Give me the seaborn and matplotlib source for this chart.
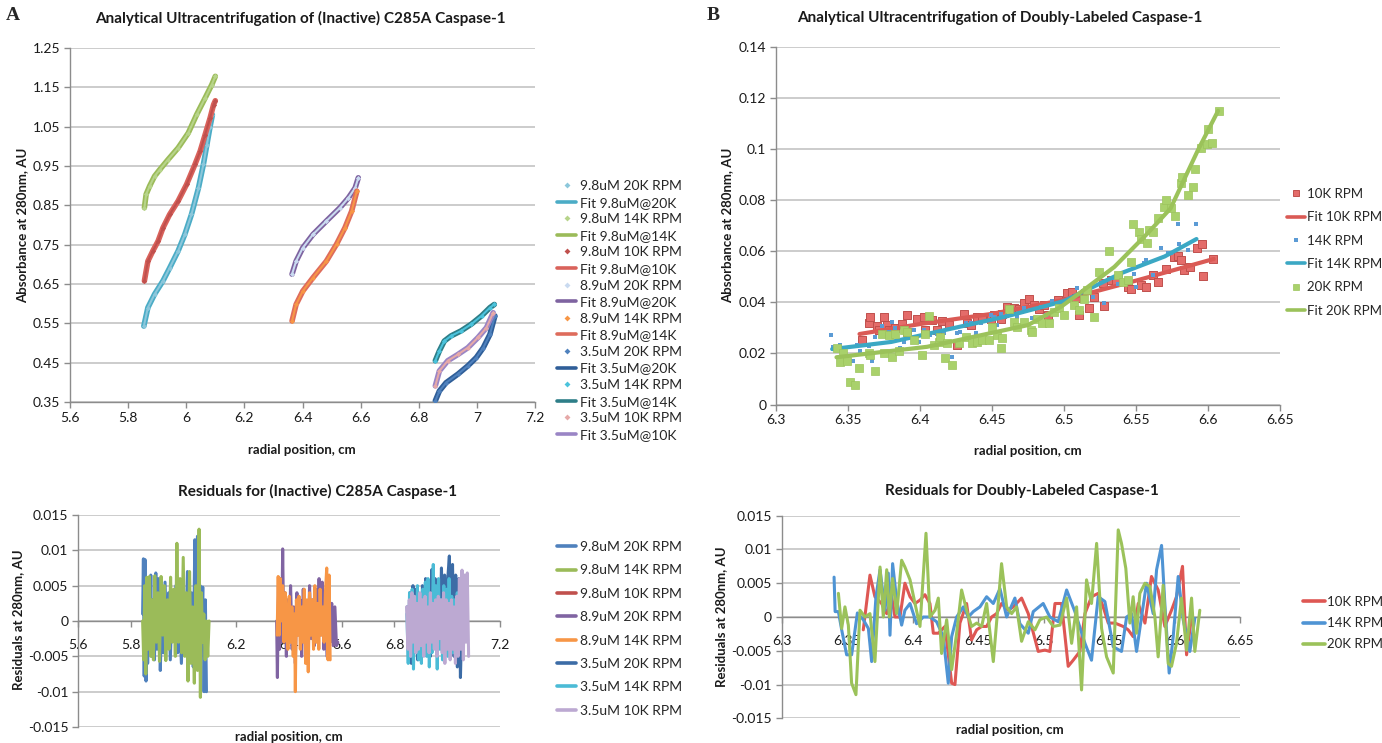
import matplotlib
matplotlib.use("Agg")
import matplotlib.pyplot as plt
import numpy as np
import pandas as pd
import seaborn as sns
from matplotlib.lines import Line2D

sns.set_style("white")
plt.rcParams["font.family"] = ["Lato", "DejaVu Sans"]

W, H = 1382, 743

# ---------------- Panel A (top): sedimentation equilibrium profiles ----------------
a_x_98_20 = [5.854, 5.868, 5.891, 5.920, 5.943, 5.972, 5.995, 6.018, 6.042, 6.059, 6.071, 6.082, 6.090]
a_y_98_20 = [0.543, 0.590, 0.624, 0.658, 0.691, 0.734, 0.776, 0.827, 0.894, 0.954, 1.004, 1.050, 1.080]
a_x_98_14 = [5.856, 5.862, 5.874, 5.891, 5.909, 5.937, 5.972, 6.007, 6.036, 6.065, 6.088, 6.100]
a_y_98_14 = [0.844, 0.878, 0.899, 0.924, 0.941, 0.966, 0.996, 1.034, 1.081, 1.123, 1.157, 1.178]
a_x_98_10 = [5.856, 5.868, 5.885, 5.903, 5.920, 5.943, 5.972, 6.001, 6.030, 6.048, 6.065, 6.082, 6.094, 6.100]
a_y_98_10 = [0.658, 0.708, 0.734, 0.759, 0.793, 0.827, 0.861, 0.903, 0.954, 0.988, 1.030, 1.072, 1.106, 1.116]
a_x_89_20 = [6.364, 6.378, 6.401, 6.436, 6.482, 6.529, 6.558, 6.581, 6.592]
a_y_89_20 = [0.675, 0.708, 0.742, 0.776, 0.810, 0.844, 0.869, 0.894, 0.920]
a_x_89_14 = [6.364, 6.378, 6.401, 6.436, 6.482, 6.517, 6.546, 6.569, 6.587]
a_y_89_14 = [0.556, 0.598, 0.632, 0.666, 0.708, 0.751, 0.793, 0.835, 0.886]
a_x_35_20 = [6.857, 6.871, 6.894, 6.935, 6.969, 6.998, 7.022, 7.045, 7.062]
a_y_35_20 = [0.353, 0.378, 0.399, 0.421, 0.442, 0.463, 0.488, 0.522, 0.569]
a_x_35_14 = [6.857, 6.871, 6.888, 6.911, 6.946, 6.981, 7.016, 7.045, 7.060]
a_y_35_14 = [0.455, 0.480, 0.505, 0.518, 0.531, 0.548, 0.569, 0.590, 0.598]
a_x_35_10 = [6.857, 6.871, 6.900, 6.935, 6.969, 7.004, 7.033, 7.056]
a_y_35_10 = [0.391, 0.429, 0.455, 0.471, 0.488, 0.514, 0.539, 0.577]

a_data_labels = ["9.8uM 20K RPM", "9.8uM 14K RPM", "9.8uM 10K RPM", "8.9uM 20K RPM",
                 "8.9uM 14K RPM", "3.5uM 20K RPM", "3.5uM 14K RPM", "3.5uM 10K RPM"]
a_fit_labels = ["Fit 9.8uM@20K", "Fit 9.8uM@14K", "Fit 9.8uM@10K", "Fit 8.9uM@20K",
                "Fit 8.9uM@14K", "Fit 3.5uM@20K", "Fit 3.5uM@14K", "Fit 3.5uM@10K"]
a_xs = [a_x_98_20, a_x_98_14, a_x_98_10, a_x_89_20, a_x_89_14, a_x_35_20, a_x_35_14, a_x_35_10]
a_ys = [a_y_98_20, a_y_98_14, a_y_98_10, a_y_89_20, a_y_89_14, a_y_35_20, a_y_35_14, a_y_35_10]
a_data_colors = ["#8CC7DB", "#B7D48A", "#C0504D", "#C9DAF0", "#F79646", "#4F81BD", "#4BC3DC", "#E6A9A8"]
a_fit_colors = ["#4BACC6", "#9BBB59", "#D9625B", "#7E63A0", "#DE6C5C", "#2F5E98", "#2E7E88", "#9A85C5"]

a_xticks = [5.6, 5.8, 6.0, 6.2, 6.4, 6.6, 6.8, 7.0, 7.2]
a_xticklabels = ["5.6", "5.8", "6", "6.2", "6.4", "6.6", "6.8", "7", "7.2"]
a_yticks = [0.35, 0.45, 0.55, 0.65, 0.75, 0.85, 0.95, 1.05, 1.15, 1.25]
a_yticklabels = ["0.35", "0.45", "0.55", "0.65", "0.75", "0.85", "0.95", "1.05", "1.15", "1.25"]

# ---------------- Panel A (bottom): residuals ----------------
ra_x_98_20 = [5.845, 5.848, 5.851, 5.854, 5.858, 5.861, 5.864, 5.868, 5.872, 5.876, 5.880, 5.885, 5.890,
              5.895, 5.900, 5.906, 5.912, 5.918, 5.924, 5.930, 5.937, 5.944, 5.950, 5.957, 5.964, 5.971,
              5.978, 5.985, 5.992, 6.000, 6.008, 6.015, 6.022, 6.030, 6.037, 6.043, 6.048, 6.053, 6.058,
              6.063, 6.068, 6.073, 6.078, 6.083, 6.087]
ra_y_98_20 = [0.0010, 0.0088, -0.0078, 0.0087, -0.0085, 0.0050, -0.0060, 0.0040, -0.0030, 0.0065, -0.0050,
              0.0030, -0.0055, 0.0068, -0.0040, 0.0060, -0.0070, 0.0020, -0.0045, 0.0055, -0.0030, 0.0040,
              -0.0055, 0.0030, -0.0020, 0.0050, -0.0045, 0.0010, -0.0060, 0.0035, -0.0040, 0.0070, -0.0050,
              0.0040, -0.0065, 0.0115, -0.0020, 0.0120, -0.0055, 0.0050, -0.0030, 0.0048, -0.0100, 0.0030,
              -0.0100]
ra_x_98_14 = [5.845, 5.849, 5.853, 5.857, 5.861, 5.866, 5.871, 5.876, 5.881, 5.886, 5.891, 5.897, 5.903,
              5.909, 5.915, 5.921, 5.927, 5.933, 5.939, 5.945, 5.951, 5.957, 5.963, 5.969, 5.975, 5.981,
              5.987, 5.993, 5.999, 6.005, 6.011, 6.017, 6.023, 6.029, 6.035, 6.041, 6.047, 6.053, 6.059,
              6.064, 6.068, 6.072, 6.077, 6.082, 6.087, 6.092, 6.097]
ra_y_98_14 = [0.0000, -0.0055, 0.0050, -0.0075, 0.0062, -0.0040, 0.0063, -0.0050, 0.0030, -0.0055, 0.0064,
              -0.0030, 0.0040, -0.0057, 0.0063, -0.0020, 0.0050, -0.0056, 0.0030, -0.0040, 0.0062, -0.0030,
              0.0045, -0.0050, 0.0110, -0.0030, 0.0060, -0.0045, 0.0090, -0.0050, 0.0040, -0.0085, 0.0070,
              -0.0060, 0.0020, -0.0088, 0.0050, -0.0070, 0.0130, -0.0108, 0.0040, -0.0030, 0.0010, -0.0055,
              0.0000, -0.0050, 0.0000]
ra_x_98_10 = []
ra_y_98_10 = []
ra_x_89_20 = [6.353, 6.356, 6.360, 6.364, 6.368, 6.372, 6.376, 6.380, 6.385, 6.390, 6.395, 6.400, 6.406,
              6.412, 6.418, 6.424, 6.430, 6.436, 6.442, 6.448, 6.454, 6.460, 6.466, 6.472, 6.478, 6.484,
              6.490, 6.496, 6.502, 6.508, 6.514, 6.520, 6.526, 6.532, 6.538, 6.544, 6.550, 6.556, 6.562,
              6.568, 6.574, 6.580, 6.585]
ra_y_89_20 = [0.0000, -0.0080, 0.0050, -0.0040, 0.0060, -0.0030, 0.0102, -0.0020, 0.0040, -0.0050, 0.0030,
              -0.0030, 0.0050, -0.0040, 0.0020, -0.0060, 0.0040, -0.0020, 0.0030, -0.0050, 0.0045, -0.0030,
              0.0020, -0.0040, 0.0050, -0.0025, 0.0030, -0.0035, 0.0045, -0.0030, 0.0060, -0.0020, 0.0055,
              -0.0040, 0.0030, -0.0050, 0.0025, -0.0030, 0.0025, -0.0035, 0.0020, -0.0035, -0.0030]
ra_x_89_14 = [6.355, 6.359, 6.363, 6.367, 6.371, 6.376, 6.381, 6.386, 6.391, 6.396, 6.401, 6.406, 6.411,
              6.416, 6.421, 6.424, 6.428, 6.433, 6.438, 6.443, 6.448, 6.453, 6.458, 6.463, 6.468, 6.473,
              6.478, 6.483, 6.488, 6.493, 6.498, 6.503, 6.508, 6.513, 6.518, 6.523, 6.528, 6.533, 6.538,
              6.543, 6.548, 6.552, 6.556]
ra_y_89_14 = [-0.0020, 0.0063, -0.0020, 0.0060, 0.0000, 0.0050, -0.0030, 0.0040, 0.0010, -0.0040, 0.0035,
              -0.0030, 0.0020, -0.0050, 0.0010, -0.0100, 0.0030, -0.0020, 0.0035, -0.0040, 0.0020, -0.0030,
              0.0045, -0.0060, 0.0030, -0.0072, 0.0040, -0.0020, 0.0030, -0.0040, 0.0050, -0.0030, 0.0025,
              -0.0040, 0.0045, -0.0020, 0.0020, -0.0030, 0.0040, 0.0075, -0.0055, 0.0065, -0.0055]
ra_x_35_20 = [6.848, 6.853, 6.858, 6.864, 6.870, 6.876, 6.882, 6.888, 6.894, 6.900, 6.906, 6.912, 6.918,
              6.924, 6.930, 6.936, 6.942, 6.948, 6.954, 6.960, 6.966, 6.972, 6.978, 6.984, 6.990, 6.996,
              7.002, 7.008, 7.014, 7.020, 7.026, 7.032, 7.038, 7.044, 7.050, 7.055]
ra_y_35_20 = [0.0020, -0.0050, 0.0040, -0.0060, 0.0050, -0.0030, 0.0045, -0.0055, 0.0030, -0.0040, 0.0050,
              -0.0045, 0.0060, -0.0030, 0.0050, -0.0050, 0.0073, -0.0020, 0.0060, -0.0040, 0.0055, -0.0030,
              0.0075, -0.0020, 0.0065, -0.0045, 0.0060, 0.0092, -0.0030, 0.0080, -0.0050, 0.0065, -0.0065,
              0.0060, -0.0080, 0.0000]
ra_x_35_14 = [6.847, 6.852, 6.857, 6.862, 6.867, 6.872, 6.877, 6.882, 6.887, 6.892, 6.897, 6.902, 6.907,
              6.912, 6.917, 6.922, 6.927, 6.932, 6.937, 6.942, 6.947, 6.952, 6.957, 6.962, 6.967, 6.972,
              6.977, 6.982, 6.987, 6.992, 6.997, 7.002, 7.007, 7.012, 7.017, 7.022, 7.027, 7.032, 7.038,
              7.044, 7.050]
ra_y_35_14 = [0.0010, -0.0060, 0.0040, -0.0050, 0.0045, -0.0068, 0.0030, -0.0045, 0.0050, -0.0055, 0.0030,
              -0.0060, 0.0045, -0.0040, 0.0055, -0.0050, 0.0060, -0.0065, 0.0035, -0.0045, 0.0080, -0.0030,
              0.0050, -0.0068, 0.0060, -0.0040, 0.0030, -0.0055, 0.0050, -0.0030, 0.0045, -0.0050, 0.0060,
              -0.0040, 0.0035, -0.0045, 0.0030, -0.0050, 0.0040, -0.0035, 0.0000]
ra_x_35_10 = [6.846, 6.851, 6.856, 6.861, 6.866, 6.871, 6.876, 6.881, 6.886, 6.891, 6.896, 6.901, 6.906,
              6.911, 6.916, 6.921, 6.926, 6.931, 6.936, 6.941, 6.946, 6.951, 6.956, 6.961, 6.966, 6.971,
              6.976, 6.981, 6.986, 6.991, 6.996, 7.001, 7.006, 7.011, 7.016, 7.021, 7.026, 7.031, 7.036,
              7.041, 7.046, 7.051, 7.056, 7.061, 7.066, 7.071, 7.076, 7.081]
ra_y_35_10 = [0.0020, -0.0040, 0.0030, -0.0050, 0.0040, -0.0030, 0.0035, -0.0045, 0.0025, -0.0040, 0.0040,
              -0.0035, 0.0030, -0.0050, 0.0035, -0.0030, 0.0020, -0.0045, 0.0040, -0.0030, 0.0025, -0.0040,
              0.0030, -0.0050, 0.0035, -0.0025, 0.0030, -0.0045, 0.0040, -0.0060, 0.0030, -0.0040, 0.0025,
              -0.0055, 0.0030, -0.0040, 0.0020, -0.0060, 0.0035, -0.0050, 0.0060, -0.0040, 0.0072, -0.0055,
              0.0065, -0.0030, 0.0068, -0.0050]
ra_xs = [ra_x_98_20, ra_x_98_14, ra_x_98_10, ra_x_89_20, ra_x_89_14, ra_x_35_20, ra_x_35_14, ra_x_35_10]
ra_ys = [ra_y_98_20, ra_y_98_14, ra_y_98_10, ra_y_89_20, ra_y_89_14, ra_y_35_20, ra_y_35_14, ra_y_35_10]
ra_colors = ["#4F81BD", "#9BBB59", "#C0504D", "#8064A2", "#F79646", "#3C6CA6", "#4BBBD6", "#BCA9D2"]
res_yticks = [-0.015, -0.01, -0.005, 0.0, 0.005, 0.01, 0.015]
res_yticklabels = ["-0.015", "-0.01", "-0.005", "0", "0.005", "0.01", "0.015"]

# ---------------- Panel B (top): doubly labeled ----------------
b_pts_10k = [(6.3597, 0.0252), (6.3643, 0.0318), (6.3655, 0.0341), (6.3701, 0.0307), (6.3712, 0.0292),
             (6.3747, 0.0341), (6.3771, 0.0311), (6.3782, 0.0292), (6.3829, 0.0298), (6.3875, 0.0314),
             (6.3910, 0.0350), (6.3910, 0.0285), (6.3980, 0.0333), (6.4026, 0.0344), (6.4038, 0.0292),
             (6.4084, 0.0331), (6.4119, 0.0292), (6.4154, 0.0327), (6.4200, 0.0311), (6.4258, 0.0233),
             (6.4304, 0.0354), (6.4328, 0.0318), (6.4351, 0.0311), (6.4398, 0.0344), (6.4432, 0.0344),
             (6.4490, 0.0333), (6.4513, 0.0350), (6.4560, 0.0333), (6.4572, 0.0354), (6.4607, 0.0383),
             (6.4653, 0.0376), (6.4687, 0.0374), (6.4722, 0.0396), (6.4757, 0.0412), (6.4792, 0.0389),
             (6.4827, 0.0373), (6.4862, 0.0389), (6.4886, 0.0350), (6.4955, 0.0409), (6.5024, 0.0435),
             (6.5059, 0.0442), (6.5082, 0.0416), (6.5105, 0.0350), (6.5175, 0.0376), (6.5210, 0.0420),
             (6.5268, 0.0477), (6.5279, 0.0385), (6.5326, 0.0487), (6.5361, 0.0481), (6.5442, 0.0461),
             (6.5465, 0.0451), (6.5535, 0.0468), (6.5570, 0.0461), (6.5616, 0.0507), (6.5651, 0.0481),
             (6.5709, 0.0530), (6.5767, 0.0578), (6.5790, 0.0581), (6.5813, 0.0566), (6.5832, 0.0526),
             (6.5878, 0.0537), (6.5925, 0.0611), (6.5958, 0.0628), (6.5965, 0.0503), (6.6034, 0.0568)]
b_pts_14k = [(6.3383, 0.0272), (6.3395, 0.0224), (6.3446, 0.0232), (6.3480, 0.0181), (6.3538, 0.0170),
             (6.3562, 0.0233), (6.3585, 0.0211), (6.3643, 0.0229), (6.3666, 0.0170), (6.3689, 0.0265),
             (6.3736, 0.0309), (6.3782, 0.0285), (6.3806, 0.0324), (6.3829, 0.0298), (6.3864, 0.0220),
             (6.3887, 0.0246), (6.3956, 0.0292), (6.3991, 0.0246), (6.4026, 0.0292), (6.4072, 0.0272),
             (6.4119, 0.0276), (6.4165, 0.0279), (6.4223, 0.0187), (6.4235, 0.0155), (6.4258, 0.0279),
             (6.4281, 0.0285), (6.4316, 0.0318), (6.4351, 0.0318), (6.4386, 0.0279), (6.4421, 0.0320),
             (6.4490, 0.0350), (6.4513, 0.0344), (6.4537, 0.0311), (6.4560, 0.0354), (6.4607, 0.0346),
             (6.4676, 0.0344), (6.4722, 0.0376), (6.4781, 0.0337), (6.4838, 0.0383), (6.4873, 0.0350),
             (6.4920, 0.0406), (6.5089, 0.0457), (6.5129, 0.0446), (6.5198, 0.0422), (6.5279, 0.0398),
             (6.5338, 0.0494), (6.5372, 0.0472), (6.5396, 0.0503), (6.5442, 0.0481), (6.5488, 0.0513),
             (6.5500, 0.0461), (6.5558, 0.0555), (6.5570, 0.0566), (6.5616, 0.0507), (6.5674, 0.0611),
             (6.5721, 0.0592), (6.5744, 0.0592), (6.5790, 0.0706), (6.5802, 0.0628), (6.5860, 0.0605),
             (6.5918, 0.0706)]
b_pts_20k = [(6.3423, 0.0220), (6.3446, 0.0168), (6.3464, 0.0203), (6.3492, 0.0172), (6.3515, 0.0089),
             (6.3550, 0.0076), (6.3573, 0.0142), (6.3643, 0.0200), (6.3655, 0.0194), (6.3689, 0.0132),
             (6.3736, 0.0276), (6.3747, 0.0203), (6.3782, 0.0272), (6.3806, 0.0187), (6.3829, 0.0276),
             (6.3852, 0.0211), (6.3887, 0.0292), (6.3910, 0.0285), (6.3956, 0.0252), (6.4015, 0.0194),
             (6.4038, 0.0276), (6.4061, 0.0346), (6.4096, 0.0233), (6.4130, 0.0246), (6.4142, 0.0265),
             (6.4177, 0.0181), (6.4189, 0.0242), (6.4223, 0.0155), (6.4269, 0.0242), (6.4316, 0.0265),
             (6.4363, 0.0242), (6.4398, 0.0246), (6.4432, 0.0252), (6.4478, 0.0252), (6.4502, 0.0305),
             (6.4537, 0.0272), (6.4560, 0.0220), (6.4572, 0.0259), (6.4618, 0.0374), (6.4653, 0.0324),
             (6.4676, 0.0305), (6.4722, 0.0324), (6.4769, 0.0292), (6.4781, 0.0285), (6.4815, 0.0333),
             (6.4850, 0.0318), (6.4896, 0.0318), (6.4931, 0.0363), (6.4966, 0.0376), (6.5001, 0.0350),
             (6.5071, 0.0389), (6.5105, 0.0370), (6.5140, 0.0412), (6.5163, 0.0448), (6.5210, 0.0344),
             (6.5245, 0.0520), (6.5314, 0.0602), (6.5372, 0.0507), (6.5407, 0.0481), (6.5442, 0.0487),
             (6.5465, 0.0559), (6.5477, 0.0706), (6.5523, 0.0676), (6.5535, 0.0650), (6.5577, 0.0633),
             (6.5593, 0.0683), (6.5616, 0.0676), (6.5651, 0.0729), (6.5697, 0.0774), (6.5709, 0.0800),
             (6.5744, 0.0768), (6.5772, 0.0738), (6.5813, 0.0866), (6.5818, 0.0889), (6.5860, 0.0820),
             (6.5899, 0.0853), (6.5913, 0.0921), (6.5948, 0.1003), (6.5994, 0.1020), (6.6003, 0.1077),
             (6.6027, 0.1025), (6.6073, 0.1150)]
b_fit_10k_x = [6.358, 6.400, 6.450, 6.500, 6.550, 6.604]
b_fit_10k_y = [0.0276, 0.0315, 0.0355, 0.0410, 0.0485, 0.0570]
b_fit_14k_x = [6.339, 6.380, 6.420, 6.460, 6.500, 6.540, 6.570, 6.592]
b_fit_14k_y = [0.0217, 0.0245, 0.0295, 0.0345, 0.0405, 0.0515, 0.0580, 0.0648]
b_fit_20k_x = [6.342, 6.405, 6.475, 6.498, 6.512, 6.535, 6.558, 6.574, 6.593, 6.607]
b_fit_20k_y = [0.0185, 0.0226, 0.0311, 0.0383, 0.0441, 0.0539, 0.0670, 0.0768, 0.0996, 0.1150]
b_xticks = [6.3, 6.35, 6.4, 6.45, 6.5, 6.55, 6.6, 6.65]
b_xticklabels = ["6.3", "6.35", "6.4", "6.45", "6.5", "6.55", "6.6", "6.65"]
b_yticks = [0, 0.02, 0.04, 0.06, 0.08, 0.10, 0.12, 0.14]
b_yticklabels = ["0", "0.02", "0.04", "0.06", "0.08", "0.1", "0.12", "0.14"]

# ---------------- Panel B (bottom): residuals ----------------
rb_x_10k = [6.3623, 6.3674, 6.3712, 6.3763, 6.3802, 6.3840, 6.3865, 6.3903, 6.3941, 6.3980, 6.4018, 6.4056,
            6.4094, 6.4132, 6.4158, 6.4196, 6.4247, 6.4298, 6.4323, 6.4361, 6.4412, 6.4450, 6.4489, 6.4527,
            6.4565, 6.4603, 6.4641, 6.4679, 6.4730, 6.4768, 6.4832, 6.4883, 6.4959, 6.5010, 6.5048, 6.5087,
            6.5137, 6.5188, 6.5226, 6.5277, 6.5316, 6.5366, 6.5417, 6.5455, 6.5494, 6.5545, 6.5608, 6.5646,
            6.5684, 6.5723, 6.5774, 6.5824, 6.5875, 6.5926, 6.5977, 6.6015, 6.6061, 6.6092, 6.6130]
rb_y_10k = [-0.0019, 0.0062, 0.0030, 0.0020, 0.0005, 0.0030, 0.0000, 0.0000, 0.0050, 0.0030, 0.0020, 0.0025,
            0.0033, 0.0020, -0.0024, -0.0024, -0.0014, -0.0098, -0.0100, -0.0009, 0.0020, -0.0034, -0.0019,
            -0.0014, -0.0014, 0.0000, 0.0005, 0.0020, 0.0010, 0.0015, 0.0028, 0.0005, -0.0051, -0.0049,
            -0.0051, 0.0020, 0.0020, -0.0073, -0.0064, -0.0051, 0.0005, 0.0030, 0.0035, 0.0015, -0.0009,
            -0.0009, -0.0014, -0.0019, -0.0029, 0.0020, -0.0009, 0.0060, 0.0040, -0.0014, 0.0010, 0.0030,
            0.0075, -0.0056, 0.0000]
rb_x_14k = [6.3400, 6.3408, 6.3433, 6.3458, 6.3496, 6.3534, 6.3578, 6.3623, 6.3662, 6.3687, 6.3720, 6.3751,
            6.3789, 6.3814, 6.3827, 6.3847, 6.3878, 6.3916, 6.3941, 6.3980, 6.4030, 6.4081, 6.4132, 6.4183,
            6.4234, 6.4272, 6.4298, 6.4336, 6.4387, 6.4425, 6.4463, 6.4514, 6.4565, 6.4616, 6.4667, 6.4718,
            6.4781, 6.4819, 6.4883, 6.4921, 6.4997, 6.5048, 6.5112, 6.5176, 6.5239, 6.5316, 6.5366, 6.5417,
            6.5468, 6.5532, 6.5595, 6.5634, 6.5672, 6.5710, 6.5748, 6.5786, 6.5837, 6.5863, 6.5901, 6.5926,
            6.5959, 6.5990, 6.6028, 6.6066, 6.6117, 6.6155]
rb_y_14k = [0.0059, 0.0008, 0.0008, -0.0019, -0.0056, -0.0056, 0.0006, -0.0004, -0.0017, -0.0066, 0.0030,
            0.0070, 0.0010, 0.0065, -0.0027, 0.0079, 0.0025, -0.0012, 0.0010, 0.0020, -0.0010, 0.0000, 0.0000,
            -0.0007, -0.0029, -0.0098, -0.0029, 0.0000, 0.0015, 0.0000, 0.0008, 0.0015, 0.0030, 0.0020, 0.0042,
            0.0000, 0.0028, -0.0010, -0.0024, 0.0008, 0.0020, 0.0000, -0.0007, 0.0040, 0.0008, -0.0039,
            -0.0064, 0.0030, 0.0023, -0.0044, -0.0051, 0.0000, 0.0005, -0.0051, 0.0000, 0.0050, 0.0005,
            0.0070, 0.0106, 0.0020, -0.0083, -0.0029, 0.0060, -0.0004, -0.0051, -0.0002]
rb_x_20k = [6.3433, 6.3458, 6.3483, 6.3509, 6.3534, 6.3567, 6.3598, 6.3636, 6.3674, 6.3712, 6.3751, 6.3776,
            6.3802, 6.3822, 6.3847, 6.3878, 6.3916, 6.3941, 6.3980, 6.4018, 6.4056, 6.4102, 6.4132, 6.4171,
            6.4196, 6.4221, 6.4260, 6.4298, 6.4336, 6.4374, 6.4412, 6.4450, 6.4489, 6.4527, 6.4565, 6.4616,
            6.4679, 6.4718, 6.4756, 6.4794, 6.4832, 6.4883, 6.4934, 6.4972, 6.5023, 6.5074, 6.5125, 6.5176,
            6.5214, 6.5252, 6.5290, 6.5328, 6.5366, 6.5405, 6.5443, 6.5481, 6.5532, 6.5570, 6.5595, 6.5628,
            6.5659, 6.5684, 6.5710, 6.5735, 6.5774, 6.5812, 6.5850, 6.5875, 6.5913, 6.5952, 6.5977, 6.6015,
            6.6053, 6.6092, 6.6130, 6.6155, 6.6193]
rb_y_20k = [0.0035, -0.0017, 0.0015, -0.0012, -0.0098, -0.0115, 0.0010, 0.0000, 0.0005, -0.0066, 0.0074,
            0.0000, 0.0070, 0.0000, 0.0057, 0.0005, 0.0084, 0.0074, 0.0055, 0.0020, -0.0014, 0.0124, 0.0000,
            0.0010, 0.0028, -0.0054, -0.0004, -0.0078, -0.0024, 0.0040, 0.0010, -0.0014, -0.0009, -0.0014,
            0.0020, -0.0066, 0.0079, 0.0015, 0.0005, 0.0015, -0.0036, -0.0007, -0.0019, -0.0004, 0.0000,
            -0.0014, -0.0012, 0.0028, -0.0039, 0.0015, -0.0108, 0.0055, 0.0020, 0.0109, -0.0017, -0.0059,
            -0.0083, 0.0129, 0.0109, 0.0072, -0.0009, 0.0030, -0.0024, 0.0035, 0.0050, 0.0045, 0.0000,
            -0.0059, 0.0047, -0.0069, -0.0073, -0.0039, 0.0028, -0.0049, 0.0028, -0.0051, 0.0010]

# ---------------- helpers ----------------
fig = plt.figure(figsize=(W / 100, H / 100), dpi=100)
fig.patch.set_facecolor("white")


def rect(x0, y0, x1, y1):
    return [x0 / W, 1 - y1 / H, (x1 - x0) / W, (y1 - y0) / H]


def fx(x):
    return x / W


def fy(y):
    return 1 - y / H


def line(ax, x, y, color, lw, z=2, **kw):
    n = min(len(x), len(y))
    if n == 0:
        return
    df = pd.DataFrame({"x": x[:n], "y": y[:n]})
    sns.lineplot(data=df, x="x", y="y", ax=ax, color=color, lw=lw, sort=False,
                 estimator=None, zorder=z, legend=False, **kw)


def style(ax, xlim, ylim, xt, xtl, yt, ytl, zero=False):
    ax.set_xlim(*xlim)
    ax.set_ylim(*ylim)
    ax.set_xticks(xt)
    ax.set_xticklabels(xtl)
    ax.set_yticks(yt)
    ax.set_yticklabels(ytl)
    ax.grid(False)
    ax.yaxis.grid(True, color="#BEBEBE", lw=1.1)
    ax.set_axisbelow(True)
    ax.set_facecolor("white")
    for s in ["top", "right"]:
        ax.spines[s].set_visible(False)
    for s in ["left", "bottom"]:
        ax.spines[s].set_color("#8C8C8C")
        ax.spines[s].set_linewidth(1.0)
    if zero:
        ax.spines["bottom"].set_position(("data", 0))
    ax.tick_params(axis="both", direction="out", length=4, width=1, color="#8C8C8C",
                   labelsize=10, labelcolor="#1a1a1a", pad=3, bottom=True, left=True)
    if zero:
        ax.tick_params(axis="x", pad=9)
    ax.set_xlabel("")
    ax.set_ylabel("")


TFONT = dict(fontsize=11, fontweight="bold", color="#1a1a1a", ha="center", va="center")
LFONT = dict(fontsize=9.5, fontweight="bold", color="#1a1a1a", ha="center", va="center")

# ---------------- Top-left ----------------
ax1 = fig.add_axes(rect(70, 48, 535, 402))
for i in range(8):
    line(ax1, a_xs[i], a_ys[i], a_fit_colors[i], 4.0, z=3 + 2 * i)
    line(ax1, a_xs[i], a_ys[i], a_data_colors[i], 1.5, z=4 + 2 * i,
         marker="D", markersize=2.6, markeredgewidth=0)
style(ax1, (5.6, 7.2), (0.35, 1.25), a_xticks, a_xticklabels, a_yticks, a_yticklabels)
h1, l1 = [], []
for i in range(8):
    h1.append(Line2D([], [], ls="none", marker="D", ms=3, mew=0, color=a_data_colors[i]))
    l1.append(a_data_labels[i])
    h1.append(Line2D([], [], color=a_fit_colors[i], lw=2.6))
    l1.append(a_fit_labels[i])
fig.legend(h1, l1, loc="upper left", bbox_to_anchor=(fx(557), fy(180)), frameon=False,
           fontsize=10, handlelength=1.4, handletextpad=0.25, labelspacing=0.33, borderpad=0,
           borderaxespad=0)
fig.text(fx(300), fy(18), "Analytical Ultracentrifugation of (Inactive) C285A Caspase-1", **TFONT)
fig.text(fx(22), fy(225), "Absorbance at 280nm, AU", rotation=90, **LFONT)
fig.text(fx(302), fy(450), "radial position, cm", **LFONT)
fig.text(fx(13), fy(16), "A", fontsize=14, fontweight="bold", family=["Liberation Serif", "DejaVu Serif"],
         ha="center", va="center")

# ---------------- Bottom-left ----------------
ax2 = fig.add_axes(rect(78, 515, 500, 727))
for i in range(8):
    line(ax2, ra_xs[i], ra_ys[i], ra_colors[i], 2.2, z=3 + i)
style(ax2, (5.6, 7.2), (-0.015, 0.015), a_xticks, a_xticklabels, res_yticks, res_yticklabels, zero=True)
h2 = [Line2D([], [], color=c, lw=2.6) for c in ra_colors]
fig.legend(h2, a_data_labels, loc="upper left", bbox_to_anchor=(fx(557), fy(541)), frameon=False,
           fontsize=10, handlelength=1.4, handletextpad=0.25, labelspacing=0.82, borderpad=0,
           borderaxespad=0)
fig.text(fx(318), fy(491), "Residuals for (Inactive) C285A Caspase-1", **TFONT)
fig.text(fx(18), fy(620), "Residuals at 280nm, AU", rotation=90, **LFONT)
fig.text(fx(289), fy(737), "radial position, cm", **LFONT)

# ---------------- Top-right ----------------
ax3 = fig.add_axes(rect(776, 47, 1280, 404.5))
df10 = pd.DataFrame(b_pts_10k, columns=["x", "y"])
df14 = pd.DataFrame(b_pts_14k, columns=["x", "y"])
df20 = pd.DataFrame(b_pts_20k, columns=["x", "y"])
sns.scatterplot(data=df10, x="x", y="y", ax=ax3, marker="s", s=30, color="#E46C6A",
                edgecolor="#C0504D", linewidth=0.7, zorder=3, legend=False)
line(ax3, b_fit_10k_x, b_fit_10k_y, "#DA5A55", 3.0, z=4)
sns.scatterplot(data=df14, x="x", y="y", ax=ax3, marker="s", s=10, color="#5B9BD5",
                linewidth=0, zorder=5, legend=False)
line(ax3, b_fit_14k_x, b_fit_14k_y, "#3BA8C4", 3.0, z=6)
sns.scatterplot(data=df20, x="x", y="y", ax=ax3, marker="s", s=26, color="#A9D16B",
                edgecolor="#9CC45C", linewidth=0.5, zorder=7, legend=False)
line(ax3, b_fit_20k_x, b_fit_20k_y, "#9BC25A", 3.0, z=8)
style(ax3, (6.3, 6.65), (0, 0.14), b_xticks, b_xticklabels, b_yticks, b_yticklabels)
h3 = [Line2D([], [], ls="none", marker="s", ms=5, color="#E46C6A", mec="#C0504D", mew=0.7),
      Line2D([], [], color="#DA5A55", lw=2.6),
      Line2D([], [], ls="none", marker="s", ms=3.2, mew=0, color="#5B9BD5"),
      Line2D([], [], color="#3BA8C4", lw=2.6),
      Line2D([], [], ls="none", marker="s", ms=4.6, color="#A9D16B", mec="#9CC45C", mew=0.5),
      Line2D([], [], color="#9BC25A", lw=2.6)]
l3 = ["10K RPM", "Fit 10K RPM", "14K RPM", "Fit 14K RPM", "20K RPM", "Fit 20K RPM"]
fig.legend(h3, l3, loc="upper left", bbox_to_anchor=(fx(1287), fy(188)), frameon=False,
           fontsize=9.5, handlelength=1.35, handletextpad=0.2, labelspacing=0.86, borderpad=0,
           borderaxespad=0)
fig.text(fx(1000), fy(18), "Analytical Ultracentrifugation of Doubly-Labeled Caspase-1", **TFONT)
fig.text(fx(727), fy(225), "Absorbance at 280nm, AU", rotation=90, **LFONT)
fig.text(fx(1028), fy(451), "radial position, cm", **LFONT)
fig.text(fx(713), fy(16), "B", fontsize=14, fontweight="bold", family=["Liberation Serif", "DejaVu Serif"],
         ha="center", va="center")

# ---------------- Bottom-right ----------------
ax4 = fig.add_axes(rect(781.7, 515.7, 1240, 718.3))
line(ax4, rb_x_10k, rb_y_10k, "#DE5753", 2.2, z=3)
line(ax4, rb_x_14k, rb_y_14k, "#4F94D4", 2.2, z=4)
line(ax4, rb_x_20k, rb_y_20k, "#9BC25A", 2.2, z=5)
style(ax4, (6.3, 6.65), (-0.015, 0.015), b_xticks, b_xticklabels, res_yticks, res_yticklabels, zero=True)
h4 = [Line2D([], [], color="#DE5753", lw=2.6), Line2D([], [], color="#4F94D4", lw=2.6),
      Line2D([], [], color="#9BC25A", lw=2.6)]
fig.legend(h4, ["10K RPM", "14K RPM", "20K RPM"], loc="upper left", bbox_to_anchor=(fx(1303), fy(596)),
           frameon=False, fontsize=9.5, handlelength=1.7, handletextpad=0.1, labelspacing=0.7,
           borderpad=0, borderaxespad=0)
fig.text(fx(1022), fy(491), "Residuals for Doubly-Labeled Caspase-1", **TFONT)
fig.text(fx(721), fy(617), "Residuals at 280nm, AU", rotation=90, **LFONT)
fig.text(fx(1010), fy(730), "radial position, cm", **LFONT)

fig.savefig("out.png", dpi=100, facecolor="white")
